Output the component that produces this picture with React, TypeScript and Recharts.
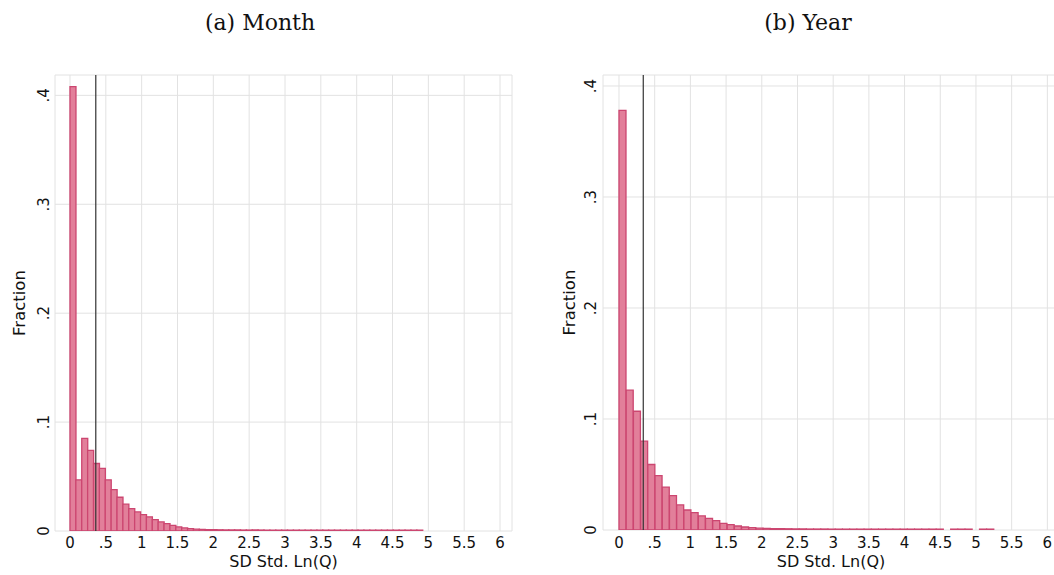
import React from 'react'
import { ComposedChart, Bar, XAxis, YAxis, CartesianGrid, ReferenceLine, Label } from 'recharts'

const X_TICKS = [0, 0.5, 1, 1.5, 2, 2.5, 3, 3.5, 4, 4.5, 5, 5.5, 6]
const Y_TICKS = [0, 0.1, 0.2, 0.3, 0.4]

// (a) Month: histogram fractions, bins start at 0
const MONTH_BIN_WIDTH = 0.082
const MONTH_FRACTIONS = [
  0.408, 0.047, 0.085, 0.074, 0.062, 0.0575, 0.047, 0.038, 0.031, 0.0246,
  0.0206, 0.0175, 0.015, 0.013, 0.0105, 0.0083, 0.0068, 0.0052, 0.0037, 0.0028,
  0.0022, 0.0018, 0.0015, 0.0013, 0.0012, 0.0011, 0.001, 0.001, 0.001, 0.0009,
  0.0009, 0.0009, 0.0009, 0.0008, 0.0008, 0.0008, 0.0008, 0.0008, 0.0008, 0.0008,
  0.0008, 0.0008, 0.0008, 0.0008, 0.0008, 0.0008, 0.0008, 0.0008, 0.0008, 0.0008,
  0.0008, 0.0008, 0.0008, 0.0008, 0.0008, 0.0008, 0.0008, 0.0008, 0.0008, 0.0008,
]
const MONTH_MARKER = 0.36

// (b) Year
const YEAR_BIN_WIDTH = 0.101
const YEAR_FRACTIONS = [
  0.378, 0.126, 0.107, 0.08, 0.059, 0.049, 0.0386, 0.031, 0.0226, 0.018,
  0.0157, 0.0127, 0.0105, 0.0084, 0.006, 0.0048, 0.0036, 0.0027, 0.0021, 0.0017,
  0.0015, 0.0013, 0.0012, 0.0011, 0.001, 0.001, 0.0009, 0.0009, 0.0009, 0.0008,
  0.0008, 0.0008, 0.0008, 0.0008, 0.0008, 0.0008, 0.0008, 0.0008, 0.0008, 0.0008,
  0.0008, 0.0008, 0.0008, 0.0008, 0.0008, 0, 0.0008, 0.0008, 0.0008, 0,
  0.0008, 0.0008,
]
const YEAR_MARKER = 0.34

const SANS = '"DejaVu Sans", "Liberation Sans", sans-serif'
const SERIF = '"DejaVu Serif", "Liberation Serif", serif'
const BAR_FILL = '#e27f9a'
const BAR_STROKE = '#cc4670'
const GRID = '#e2e2e2'

const fmt = (v: number) => (v === 0 ? '0' : String(v).replace(/^0\./, '.'))

const toBins = (fractions: number[], width: number) =>
  fractions.map((f, i) => ({ x: (i + 0.5) * width, f }))

interface PanelProps {
  data: { x: number; f: number }[]
  marker: number
  left: number
  width: number
  yAxisWidth: number
  xAxisHeight: number
  xDomain: [number, number]
  yDomain: [number, number]
  yTickX: number
  yTitleX: number
}

function Panel({ data, marker, left, width, yAxisWidth, xAxisHeight, xDomain, yDomain, yTickX, yTitleX }: PanelProps) {
  const YTick = (props: any) => {
    const { y, payload } = props
    return (
      <text
        x={yTickX}
        y={y}
        transform={`rotate(-90 ${yTickX} ${y})`}
        textAnchor="middle"
        dy="0.36em"
        fontSize={15}
        fontFamily={SANS}
        fill="#111"
      >
        {fmt(payload.value)}
      </text>
    )
  }
  const XTick = (props: any) => {
    const { x, payload } = props
    return (
      <text x={x} y={548} textAnchor="middle" fontSize={15} fontFamily={SANS} fill="#111">
        {fmt(payload.value)}
      </text>
    )
  }

  return (
    <div style={{ position: 'absolute', left, top: 0 }}>
      <ComposedChart
        width={width}
        height={575}
        data={data}
        margin={{ top: 75, right: 15, bottom: 0, left: 0 }}
        barCategoryGap={0}
        barGap={0}
      >
        <CartesianGrid stroke={GRID} strokeWidth={1} />
        <XAxis
          type="number"
          dataKey="x"
          domain={xDomain}
          ticks={X_TICKS}
          allowDataOverflow
          interval={0}
          axisLine={false}
          tickLine={false}
          height={xAxisHeight}
          tick={XTick}
        >
          <Label
            content={(p: any) => (
              <text
                x={p.viewBox.x + p.viewBox.width / 2}
                y={567}
                textAnchor="middle"
                fontSize={16}
                fontFamily={SANS}
                fill="#111"
              >
                SD Std. Ln(Q)
              </text>
            )}
          />
        </XAxis>
        <YAxis
          type="number"
          domain={yDomain}
          ticks={Y_TICKS}
          allowDataOverflow
          interval={0}
          axisLine={false}
          tickLine={false}
          width={yAxisWidth}
          tick={YTick}
        >
          <Label
            content={(p: any) => {
              const cy = p.viewBox.y + p.viewBox.height / 2
              return (
                <text
                  x={yTitleX}
                  y={cy}
                  transform={`rotate(-90 ${yTitleX} ${cy})`}
                  textAnchor="middle"
                  dy="0.36em"
                  fontSize={16.5}
                  fontFamily={SANS}
                  fill="#111"
                >
                  Fraction
                </text>
              )
            }}
          />
        </YAxis>
        <Bar dataKey="f" fill={BAR_FILL} stroke={BAR_STROKE} strokeWidth={1.3} isAnimationActive={false} />
        <ReferenceLine x={marker} stroke="#333" strokeWidth={1.2} />
      </ComposedChart>
    </div>
  )
}

export default function App() {
  return (
    <div
      style={{
        position: 'fixed',
        left: 0,
        top: 0,
        width: 1054,
        height: 575,
        overflow: 'hidden',
        background: '#fff',
      }}
    >
      <svg width={1054} height={40} style={{ position: 'absolute', left: 0, top: 0 }}>
        <text x={260} y={30} textAnchor="middle" fontSize={22} fontFamily={SERIF} fill="#111">
          (a) Month
        </text>
        <text x={808} y={30} textAnchor="middle" fontSize={22} fontFamily={SERIF} fill="#111">
          (b) Year
        </text>
      </svg>
      <Panel
        data={toBins(MONTH_FRACTIONS, MONTH_BIN_WIDTH)}
        marker={MONTH_MARKER}
        left={0}
        width={527}
        yAxisWidth={55}
        xAxisHeight={44}
        xDomain={[-0.209, 6.167]}
        yDomain={[0, 0.4187]}
        yTickX={43.5}
        yTitleX={19.5}
      />
      <Panel
        data={toBins(YEAR_FRACTIONS, YEAR_BIN_WIDTH)}
        marker={YEAR_MARKER}
        left={527}
        width={547}
        yAxisWidth={76}
        xAxisHeight={45}
        xDomain={[-0.224, 6.163]}
        yDomain={[0, 0.4099]}
        yTickX={63.5}
        yTitleX={42}
      />
    </div>
  )
}
